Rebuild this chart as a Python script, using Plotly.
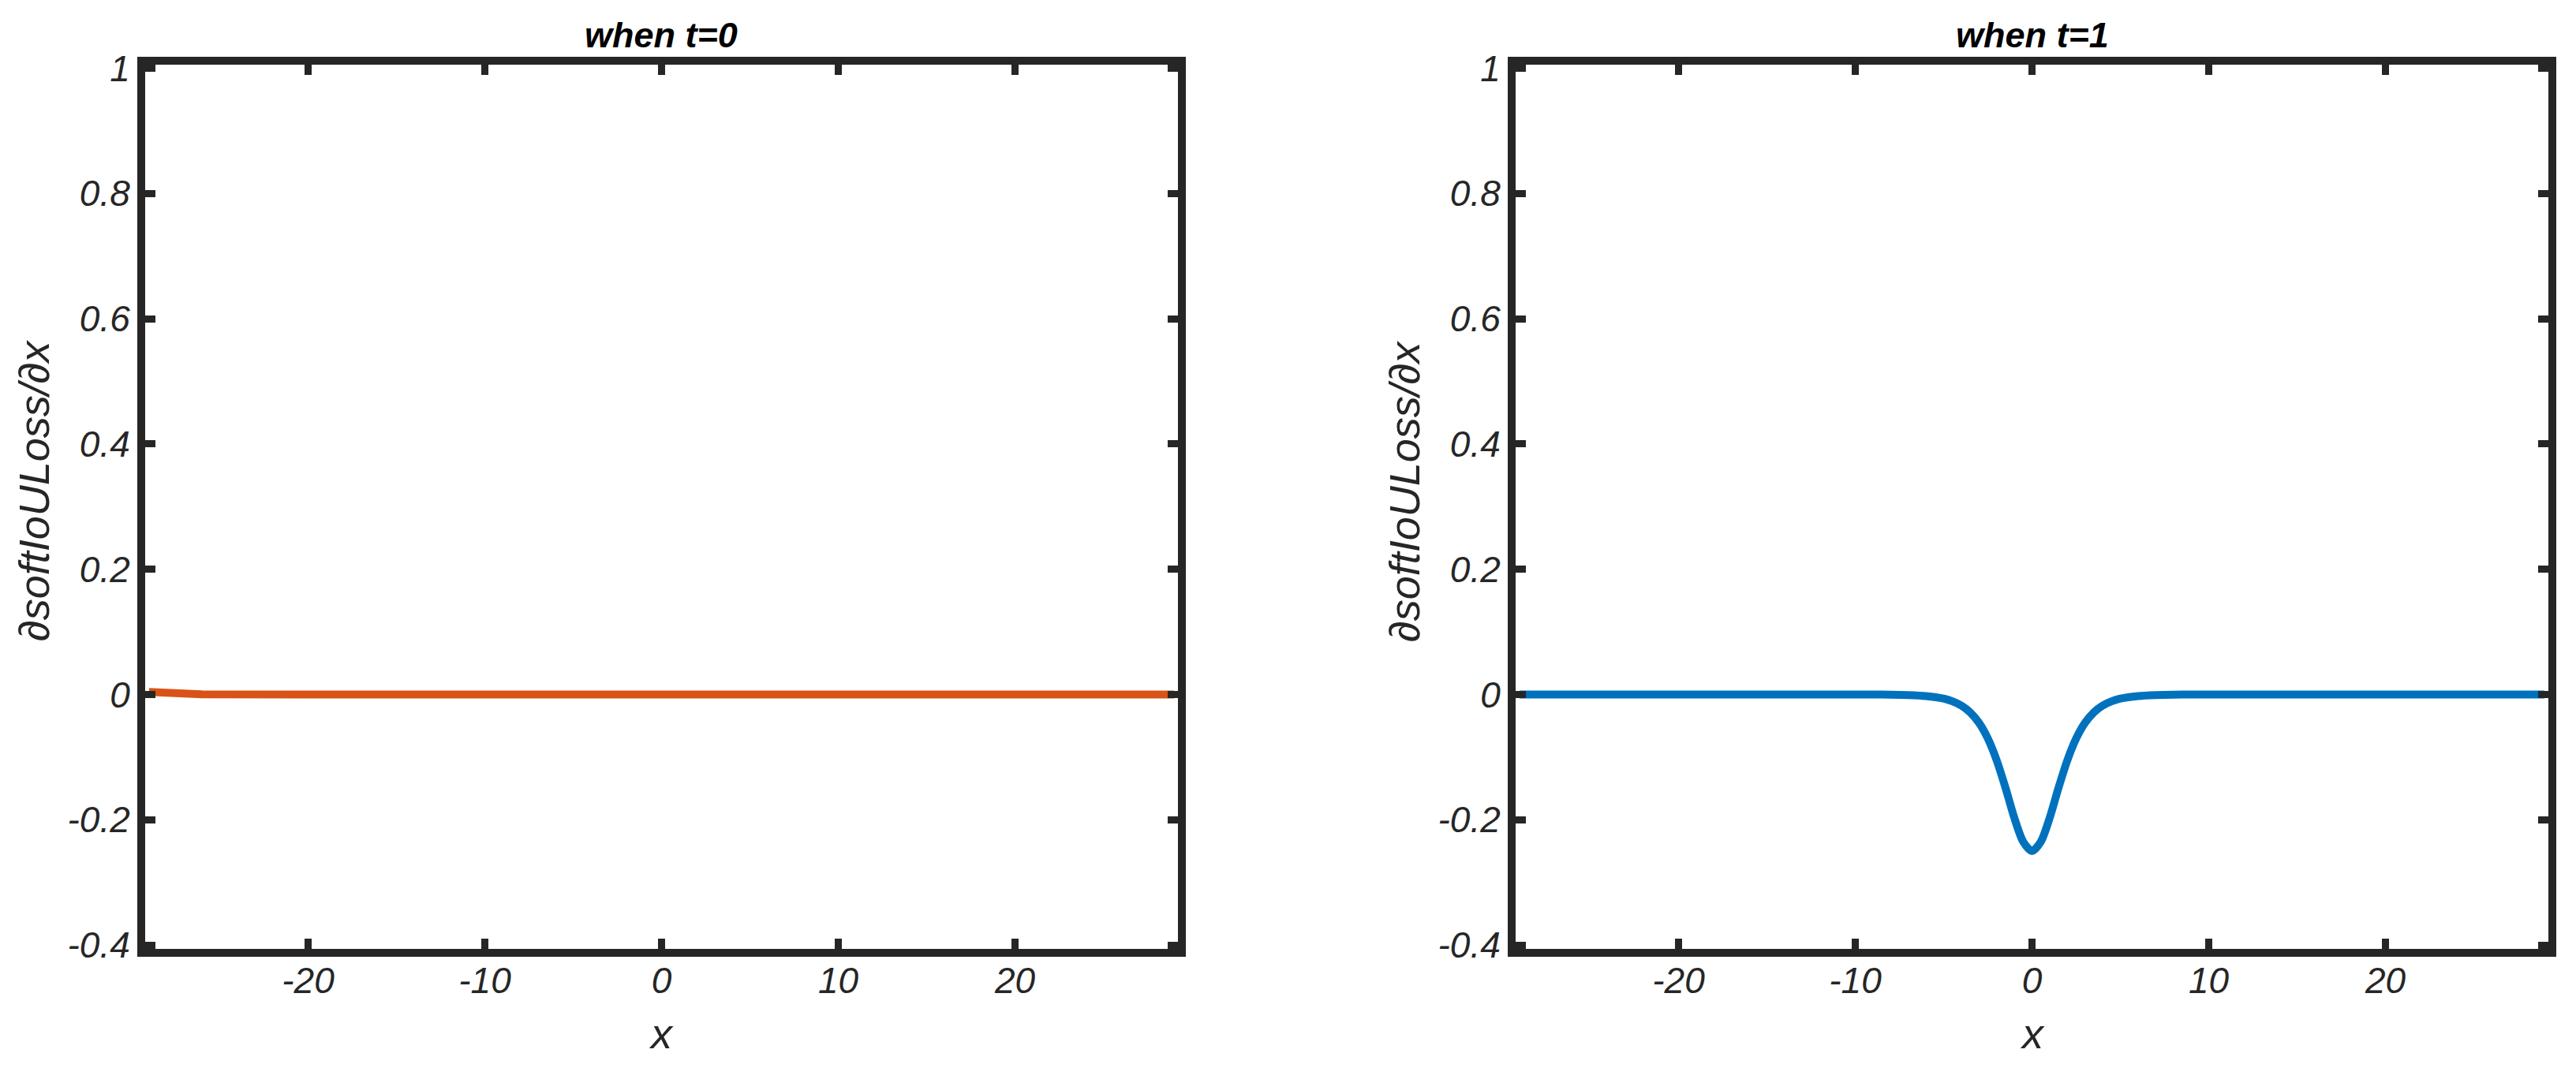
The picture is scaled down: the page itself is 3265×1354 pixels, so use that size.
import plotly.graph_objects as go

# ---- data ----
x_t0 = [-29, -28.5, -28, -27.5, -27, -26.5, -26, -20, -10, 0, 10, 20, 29]
y_t0 = [0.004, 0.0033, 0.0025, 0.0017, 0.001, 0.0005, 0.0002, 0, 0, 0, 0, 0, 0]

x_t1 = [-29, -20, -12, -10, -9, -8, -7, -6, -5, -4.5, -4, -3.5, -3, -2.5, -2, -1.5, -1, -0.5, 0,
        0.5, 1, 1.5, 2, 2.5, 3, 3.5, 4, 4.5, 5, 6, 7, 8, 9, 10, 12, 20, 29]
y_t1 = [0, 0, 0, -0.00005, -0.0001, -0.0003, -0.0009, -0.0025, -0.0066, -0.011, -0.0177, -0.0285, -0.0452,
        -0.0701, -0.105, -0.149, -0.197, -0.235, -0.25,
        -0.235, -0.197, -0.149, -0.105, -0.0701, -0.0452, -0.0285, -0.0177, -0.011, -0.0066, -0.0025,
        -0.0009, -0.0003, -0.0001, -0.00005, 0, 0, 0]

x_ticks = [-20, -10, 0, 10, 20]
x_ticktext = ["-20", "-10", "0", "10", "20"]
y_ticks = [-0.4, -0.2, 0, 0.2, 0.4, 0.6, 0.8, 1]
y_ticktext = ["-0.4", "-0.2", "0", "0.2", "0.4", "0.6", "0.8", "1"]

titles = ["when t=0", "when t=1"]
ylabel = "∂softIoULoss/∂x"
xlabel = "x"

# ---- layout geometry ----
W, H = 3265, 1354
AX = "#262626"
FONT = "Liberation Sans, Arial, Helvetica, sans-serif"

panels = [(179, 1498), (1916, 3235)]
top, bottom = 76.5, 1208
lw = 10
xpad = 29 * (lw / 2) / ((1498 - 179) / 2)
ypad = 1.4 * (lw / 2) / (bottom - top)

fig = go.Figure()
fig.add_trace(go.Scatter(x=x_t0, y=y_t0, mode="lines", line=dict(color="#D95319", width=10),
                         xaxis="x", yaxis="y", showlegend=False))
fig.add_trace(go.Scatter(x=x_t1, y=y_t1, mode="lines", line=dict(color="#0072BD", width=10, shape="spline", smoothing=0.8),
                         xaxis="x2", yaxis="y2", showlegend=False))

tickfont = dict(family=FONT, size=46, color=AX, style="italic")

def xa(l, r, anchor):
    return dict(domain=[(l + lw / 2) / W, (r - lw / 2) / W], range=[-29 - xpad, 29 + xpad],
                tickvals=x_ticks, ticktext=x_ticktext, ticks="inside", ticklen=13, tickwidth=9,
                tickcolor=AX, showline=True, linecolor=AX, linewidth=lw, mirror="ticks",
                showgrid=False, zeroline=False, tickfont=tickfont, anchor=anchor,
                automargin=False, ticklabelstandoff=-9)

def ya(anchor):
    return dict(domain=[(H - bottom + lw / 2) / H, (H - top - lw / 2) / H], range=[-0.4 - ypad, 1 + ypad],
                tickvals=y_ticks, ticktext=y_ticktext, ticks="inside", ticklen=13, tickwidth=9,
                tickcolor=AX, showline=True, linecolor=AX, linewidth=lw, mirror="ticks",
                showgrid=False, zeroline=False, tickfont=tickfont, anchor=anchor,
                automargin=False, ticklabelstandoff=0)

annotations = []
for (l, r), t in zip(panels, titles):
    cx = (l + r) / 2
    annotations.append(dict(text=t, x=cx / W, y=1 - 44 / H, xref="paper", yref="paper",
                            xanchor="center", yanchor="middle", showarrow=False,
                            font=dict(family=FONT, size=45, color="black", weight="bold", style="italic")))
    annotations.append(dict(text=xlabel, x=cx / W, y=1 - 1310 / H, xref="paper", yref="paper",
                            xanchor="center", yanchor="middle", showarrow=False,
                            font=dict(family=FONT, size=54, color=AX, style="italic")))
    annotations.append(dict(text=ylabel, x=(l - 136) / W, y=1 - 622 / H, xref="paper", yref="paper",
                            xanchor="center", yanchor="middle", showarrow=False, textangle=-90,
                            font=dict(family=FONT, size=54, color=AX, style="italic")))

fig.update_layout(
    width=W, height=H,
    margin=dict(l=0, r=0, t=0, b=0),
    paper_bgcolor="white", plot_bgcolor="white",
    xaxis=xa(*panels[0], "y"), yaxis=ya("x"),
    xaxis2=xa(*panels[1], "y2"), yaxis2=ya("x2"),
    annotations=annotations,
    showlegend=False,
)

fig.write_html("out.html", config={"displayModeBar": False},
               post_script="document.body.style.margin='0';")
